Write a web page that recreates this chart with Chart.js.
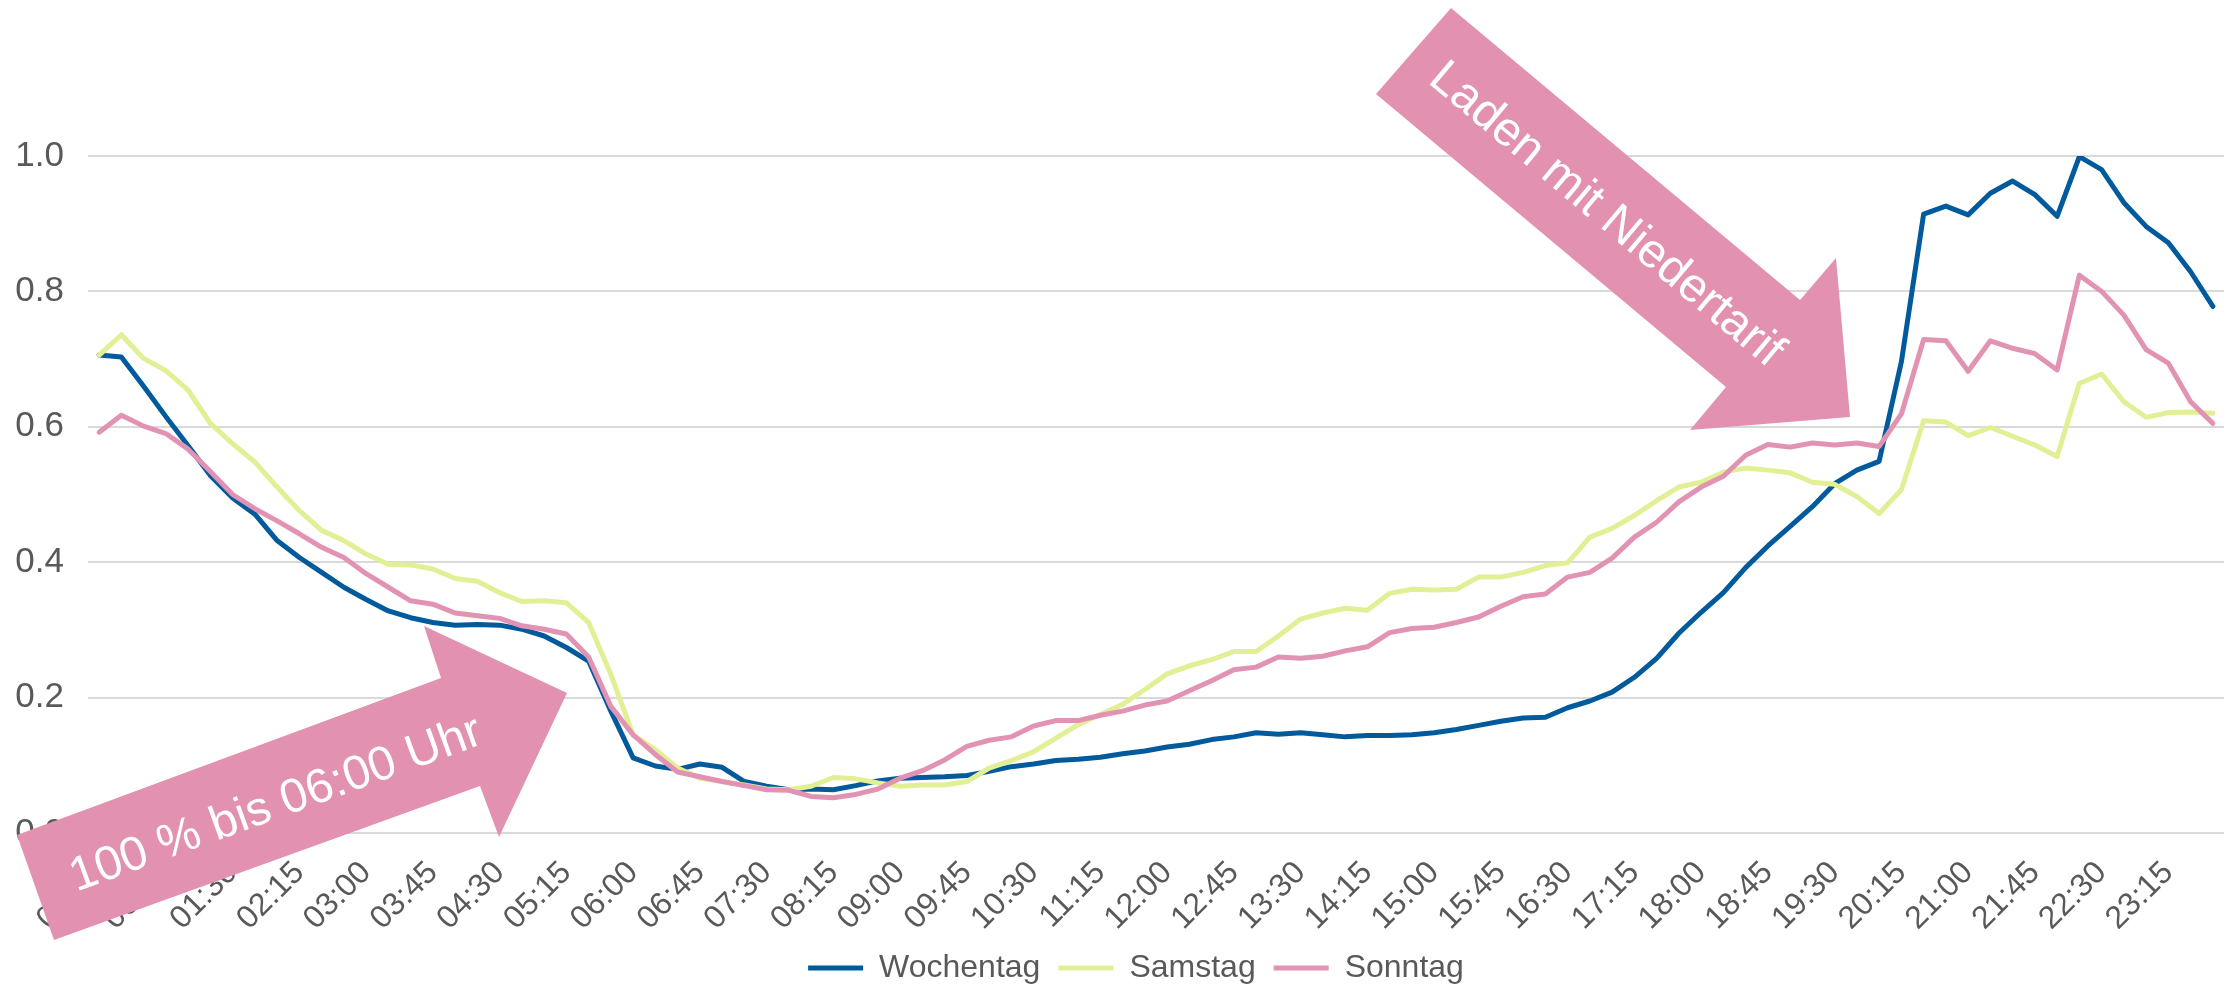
<!DOCTYPE html>
<html>
<head>
<meta charset="utf-8">
<script src="https://cdn.jsdelivr.net/npm/chart.js@4.4.1/dist/chart.umd.min.js"></script>
<style>
  html, body { margin: 0; padding: 0; background: #fff; }
</style>
</head>
<body>
<canvas id="chart" width="2234" height="994"></canvas>
<script>
// time of day, 15 minute steps
const times = [];
for (let h = 0; h < 24; h++) {
  for (let m = 0; m < 60; m += 15) {
    times.push(String(h).padStart(2, '0') + ':' + String(m).padStart(2, '0'));
  }
}
// only every third slot gets a label (00:00, 00:45, 01:30 ...)
const tickLabels = times.filter((t, i) => i % 3 === 0);

const wochentag = [
  0.706, 0.703, 0.660, 0.615, 0.572, 0.528, 0.495, 0.471, 0.432, 0.407, 0.385, 0.363,
  0.345, 0.328, 0.318, 0.311, 0.307, 0.308, 0.307, 0.301, 0.291, 0.274, 0.254, 0.180,
  0.111, 0.099, 0.094, 0.102, 0.097, 0.076, 0.069, 0.064, 0.065, 0.064, 0.070, 0.077,
  0.081, 0.082, 0.083, 0.085, 0.091, 0.098, 0.102, 0.107, 0.109, 0.112, 0.117, 0.121,
  0.127, 0.131, 0.138, 0.142, 0.148, 0.146, 0.148, 0.145, 0.142, 0.144, 0.144, 0.145,
  0.148, 0.153, 0.159, 0.165, 0.170, 0.171, 0.185, 0.195, 0.208, 0.230, 0.258, 0.295,
  0.326, 0.355, 0.392, 0.424, 0.453, 0.482, 0.516, 0.536, 0.549, 0.696, 0.914, 0.926,
  0.913, 0.945, 0.963, 0.943, 0.911, 0.999, 0.980, 0.931, 0.896, 0.872, 0.829, 0.778
];
const samstag = [
  0.706, 0.736, 0.701, 0.683, 0.654, 0.605, 0.575, 0.548, 0.511, 0.476, 0.447, 0.432,
  0.412, 0.397, 0.396, 0.390, 0.376, 0.372, 0.355, 0.342, 0.343, 0.340, 0.311, 0.234,
  0.145, 0.123, 0.096, 0.081, 0.076, 0.071, 0.065, 0.064, 0.069, 0.082, 0.080, 0.074,
  0.069, 0.071, 0.071, 0.076, 0.096, 0.107, 0.120, 0.140, 0.160, 0.175, 0.190, 0.212,
  0.235, 0.247, 0.256, 0.268, 0.268, 0.291, 0.316, 0.325, 0.332, 0.329, 0.354, 0.360,
  0.359, 0.360, 0.378, 0.378, 0.385, 0.395, 0.399, 0.437, 0.450, 0.469, 0.491, 0.511,
  0.518, 0.533, 0.539, 0.536, 0.532, 0.518, 0.515, 0.497, 0.472, 0.507, 0.609, 0.607,
  0.587, 0.599, 0.586, 0.573, 0.556, 0.664, 0.678, 0.637, 0.614, 0.621, 0.622, 0.620
];
const sonntag = [
  0.592, 0.617, 0.601, 0.590, 0.567, 0.534, 0.500, 0.479, 0.461, 0.442, 0.422, 0.407,
  0.383, 0.363, 0.343, 0.338, 0.325, 0.321, 0.317, 0.306, 0.301, 0.294, 0.260, 0.187,
  0.145, 0.116, 0.090, 0.083, 0.076, 0.070, 0.064, 0.063, 0.054, 0.052, 0.057, 0.065,
  0.081, 0.092, 0.108, 0.128, 0.137, 0.142, 0.158, 0.166, 0.166, 0.174, 0.180, 0.189,
  0.195, 0.210, 0.225, 0.241, 0.245, 0.260, 0.258, 0.261, 0.269, 0.275, 0.296, 0.302,
  0.304, 0.311, 0.319, 0.335, 0.349, 0.353, 0.378, 0.385, 0.406, 0.437, 0.459, 0.489,
  0.511, 0.527, 0.558, 0.574, 0.570, 0.576, 0.573, 0.576, 0.571, 0.619, 0.729, 0.727,
  0.682, 0.727, 0.716, 0.708, 0.684, 0.824, 0.800, 0.765, 0.714, 0.694, 0.637, 0.605
];

const FONT = "'Liberation Sans', Arial, sans-serif";
const GREY = '#595959';
const ARROW = '#E291B1';

// the two pink block arrows with white text, drawn on top of everything
const arrowsPlugin = {
  id: 'arrows',
  afterDraw(chart) {
    const ctx = chart.ctx;
    const shapes = [
      {
        pts: [[17, 835], [441, 678], [424, 626], [567, 693], [499, 837], [480, 786], [54, 940]],
        text: '100 % bis 06:00 Uhr', cx: 276, cy: 805, angle: -20
      },
      {
        pts: [[1451, 8], [1800, 300], [1836, 258], [1850, 417], [1690, 430], [1726, 387], [1376, 94]],
        text: 'Laden mit Niedertarif', cx: 1606, cy: 215, angle: 40
      }
    ];
    ctx.save();
    shapes.forEach(s => {
      ctx.beginPath();
      s.pts.forEach((p, i) => i ? ctx.lineTo(p[0], p[1]) : ctx.moveTo(p[0], p[1]));
      ctx.closePath();
      ctx.fillStyle = ARROW;
      ctx.fill();

      ctx.save();
      ctx.translate(s.cx, s.cy);
      ctx.rotate(s.angle * Math.PI / 180);
      ctx.fillStyle = '#ffffff';
      ctx.font = '48px ' + FONT;
      ctx.textAlign = 'center';
      ctx.textBaseline = 'middle';
      ctx.fillText(s.text, 0, 0);
      ctx.restore();
    });
    ctx.restore();
  }
};

// nudge the legend a little to the left, like the original
const legendShift = {
  id: 'legendShift',
  afterLayout(chart) {
    chart.legend.left -= 20;
    chart.legend.right -= 20;
  }
};

const lineStyle = { borderWidth: 5, tension: 0, pointRadius: 0, borderJoinStyle: 'round', borderCapStyle: 'round', fill: false };

new Chart(document.getElementById('chart'), {
  type: 'line',
  data: {
    labels: times,
    datasets: [
      { label: 'Wochentag', data: wochentag, borderColor: '#005A9C', backgroundColor: '#005A9C', order: 3, ...lineStyle },
      { label: 'Samstag', data: samstag, borderColor: '#E2EF95', backgroundColor: '#E2EF95', order: 2, ...lineStyle },
      { label: 'Sonntag', data: sonntag, borderColor: '#E292B2', backgroundColor: '#E292B2', order: 1, ...lineStyle }
    ]
  },
  options: {
    responsive: false,
    animation: false,
    devicePixelRatio: 1,
    layout: { padding: { top: 156, right: 10, left: 0, bottom: 0 } },
    plugins: {
      tooltip: { enabled: false },
      legend: {
        position: 'bottom',
        fullSize: false,
        maxHeight: 61,
        labels: {
          usePointStyle: true,
          pointStyle: 'line',
          pointStyleWidth: 55,
          padding: 18,
          color: GREY,
          font: { family: FONT, size: 32 },
          sort: (a, b) => a.datasetIndex - b.datasetIndex
        }
      }
    },
    scales: {
      x: {
        offset: true,
        grid: { display: false, drawTicks: false },
        border: { display: false },
        afterFit: s => {
          s.height = 101;
          s.paddingLeft = 0;
          s.paddingRight = 0;
        },
        ticks: {
          autoSkip: false,
          minRotation: 45,
          maxRotation: 45,
          padding: 21,
          color: GREY,
          font: { family: FONT, size: 32 },
          callback: (v, i) => (i % 3 === 0 ? tickLabels[i / 3] : '')
        }
      },
      y: {
        min: 0,
        max: 1,
        afterFit: s => { s.width = 88; },
        grid: { color: '#D9D9D9', lineWidth: 2, drawTicks: false },
        border: { display: false },
        ticks: {
          stepSize: 0.2,
          padding: 24,
          color: GREY,
          font: { family: FONT, size: 35 },
          callback: v => v.toFixed(1)
        }
      }
    }
  },
  plugins: [arrowsPlugin, legendShift]
});
</script>
</body>
</html>
